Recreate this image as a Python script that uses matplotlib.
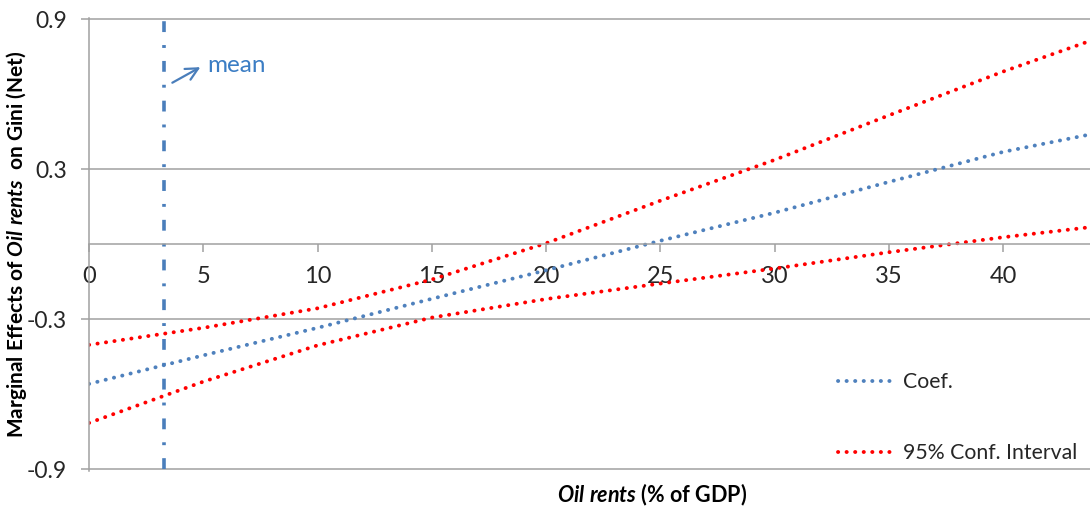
import matplotlib
matplotlib.use("Agg")
import matplotlib.pyplot as plt

plt.rcParams['font.family'] = ['Lato', 'DejaVu Sans']
plt.rcParams['mathtext.fontset'] = 'custom'
plt.rcParams['mathtext.rm'] = 'Lato:bold'
plt.rcParams['mathtext.bf'] = 'Lato:bold'
plt.rcParams['mathtext.it'] = 'Lato:bold:italic'
plt.rcParams['mathtext.bfit'] = 'Lato:bold:italic'

# ---- data ----
oil_rents = [0, 5, 10, 15, 20, 25, 30, 35, 40, 43.6]
coef = [-0.558, -0.444, -0.334, -0.218, -0.104, 0.014, 0.126, 0.249, 0.369, 0.435]
ci_upper = [-0.402, -0.334, -0.256, -0.141, 0.004, 0.174, 0.337, 0.515, 0.690, 0.806]
ci_lower = [-0.714, -0.549, -0.404, -0.293, -0.219, -0.157, -0.097, -0.032, 0.028, 0.066]
mean_oil = 3.3
x_ticks = [0, 5, 10, 15, 20, 25, 30, 35, 40]
y_ticks = [-0.9, -0.3, 0.3, 0.9]
y_tick_labels = ['-0.9', '-0.3', '0.3', '0.9']

W, H = 1090, 514
fig = plt.figure(figsize=(W / 100, H / 100), dpi=100)
ax = fig.add_axes([89 / W, 43.5 / H, (W - 89) / W, (470.5 - 18) / H])
ax.set_xlim(0, 43.8)
ax.set_ylim(-0.904, 0.904)

grid_c = '#A0A0A0'
for s in ['top', 'right']:
    ax.spines[s].set_visible(False)
ax.spines['left'].set_color(grid_c)
ax.spines['left'].set_linewidth(1.1)
ax.spines['bottom'].set_position(('data', 0))
ax.spines['bottom'].set_color(grid_c)
ax.spines['bottom'].set_linewidth(1.1)

ax.set_yticks(y_ticks)
ax.set_yticklabels(y_tick_labels)
ax.set_xticks(x_ticks)
ax.set_xticklabels([str(t) for t in x_ticks])
ax.yaxis.grid(True, color=grid_c, linewidth=1.1)
ax.set_axisbelow(True)
ax.tick_params(axis='x', direction='out', length=5.8, width=1.1, color=grid_c,
               pad=10, labelsize=17, labelcolor='#262626')
ax.tick_params(axis='y', direction='out', length=5.8, width=1.1, color=grid_c,
               pad=10, labelsize=16.5, labelcolor='#262626')

dot = (0, (0.05, 2.15))
ax.plot(oil_rents, coef, color='#4F81BD', lw=2.8, linestyle=dot,
        dash_capstyle='round', label='Coef.')
ax.plot(oil_rents, ci_upper, color='#FF0000', lw=2.8, linestyle=dot,
        dash_capstyle='round', label='95% Conf. Interval')
ax.plot(oil_rents, ci_lower, color='#FF0000', lw=2.8, linestyle=dot,
        dash_capstyle='round')

ax.plot([mean_oil, mean_oil], [-0.9, 0.9], color='#4A7EBB', lw=2.6,
        linestyle=(0, (3.0, 3.6, 0.8, 3.6)), clip_on=False)

ax.annotate('', xy=(4.98, 0.713), xytext=(3.54, 0.640),
            arrowprops=dict(arrowstyle='->', color='#4A7EBB', lw=1.6,
                            mutation_scale=22))
ax.text(5.18, 0.713, 'mean', color='#3B7DC4', fontsize=17.5,
        ha='left', va='center')

leg = ax.legend(loc='lower right', bbox_to_anchor=(1.0, -0.012), frameon=False,
                fontsize=15.3, handlelength=2.5, handletextpad=0.55,
                labelspacing=2.4, borderaxespad=0.2)
for t in leg.get_texts():
    t.set_color('#262626')

fig.text(17 / W, 1 - 244 / H,
         r'Marginal Effects of $\mathbfit{Oil\ rents}$  on Gini (Net)',
         rotation=90, ha='center', va='center', fontsize=15,
         fontweight='bold', color='black')
fig.text(652 / W, 1 - 495 / H, r'$\mathbfit{Oil\ rents}$ (% of GDP)',
         ha='center', va='center', fontsize=15.5, fontweight='bold',
         color='black')

fig.savefig('out.png', dpi=100)
